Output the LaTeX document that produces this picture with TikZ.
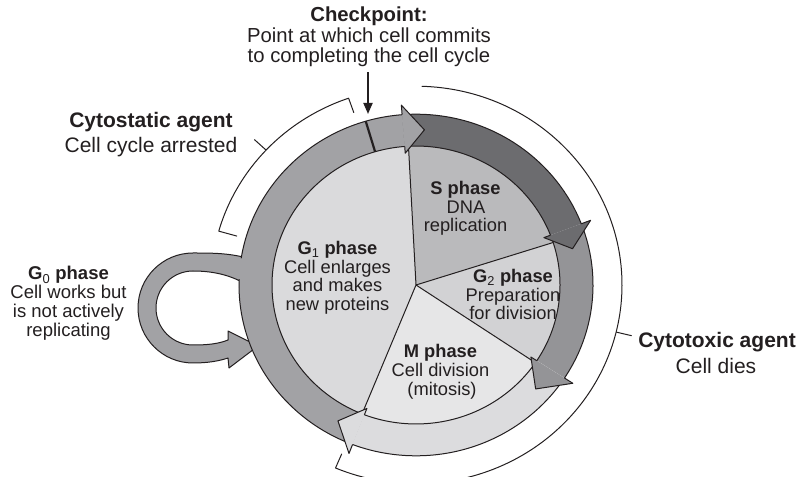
\documentclass[tikz,border=0pt]{standalone}
\usepackage{fontspec}
\setmainfont{Liberation Sans}
\usetikzlibrary{arrows.meta}
\definecolor{ringGone}{HTML}{A2A2A5}
\definecolor{ringS}{HTML}{6C6C6F}
\definecolor{ringGtwo}{HTML}{949497}
\definecolor{ringM}{HTML}{DCDCDE}
\definecolor{secGone}{HTML}{DADADC}
\definecolor{secS}{HTML}{BABABC}
\definecolor{secGtwo}{HTML}{D2D2D4}
\definecolor{secM}{HTML}{E6E6E7}
\definecolor{ink}{HTML}{231F20}
\tikzset{
  lab/.style={inner sep=0pt, anchor=base, text=ink},
  big/.style={lab, font=\fontsize{21}{25}\selectfont},
  bigb/.style={lab, font=\fontsize{21}{25}\selectfont\bfseries},
  cpr/.style={lab, font=\fontsize{20.3}{21}\selectfont},
  cpb/.style={lab, font=\fontsize{20.3}{21}\selectfont\bfseries},
  inr/.style={lab, font=\fontsize{18.3}{19}\selectfont},
  inb/.style={lab, font=\fontsize{18.3}{19}\selectfont\bfseries},
  gzr/.style={lab, font=\fontsize{18.5}{19}\selectfont},
  gzb/.style={lab, font=\fontsize{18.5}{19}\selectfont\bfseries},
  outl/.style={draw=ink, line width=1pt},
  brk/.style={draw=ink, line width=1pt},
}
\begin{document}
\begin{tikzpicture}[x=1pt,y=1pt,line join=round]
\useasboundingbox (0,0) rectangle (799,476);
\clip (0,0) rectangle (799,476);

% ---------- G0 loop (pixel coordinates, y downwards)
\begin{scope}[shift={(0,476)}, yscale=-1]
\filldraw[fill=ringGone, outl]
 (258,262) -- (243,257) .. controls (226,253) and (210,253) .. (193,253)
 arc[start angle=270, end angle=90, radius=55pt]
 .. controls (208,363) and (219,361) .. (228,358)
 -- (229,368) -- (258,346) -- (228,331) -- (228,340)
 .. controls (218,344) and (207,345) .. (193,345)
 arc[start angle=90, end angle=270, radius=37pt]
 .. controls (210,271) and (226,274) .. (240,281) -- (258,286) -- cycle;
\end{scope}

% ---------- cell cycle
\begin{scope}[shift={(416,191)}, yscale=0.965]
 % brackets
 \draw[brk] (109.2:189pt) -- (109.2:205pt) arc[start angle=109.2, end angle=164.2, radius=205pt] -- (164.2:186pt);
 \draw[brk] (137:205pt) -- (137:221pt);
 \draw[brk] (88.4:206pt) arc[start angle=88.4, end angle=-113, radius=206pt] -- (-113:190pt);
 \draw[brk] (-13.7:206pt) -- (-13.7:222pt);
 % disk sectors
 \fill[secGone] (0,0) -- (93:144pt) arc[start angle=93, end angle=248, radius=144pt] -- cycle;
 \fill[secS] (0,0) -- (17.8:144pt) arc[start angle=17.8, end angle=93, radius=144pt] -- cycle;
 \fill[secGtwo] (0,0) -- (-34:144pt) arc[start angle=-34, end angle=17.8, radius=144pt] -- cycle;
 \fill[secM] (0,0) -- (-112:144pt) arc[start angle=-112, end angle=-34, radius=144pt] -- cycle;
 \draw[outl] (93:144pt) -- (0,0) -- (17.8:144pt) (0,0) -- (-34:144pt) (0,0) -- (-112:144pt);
 % ring bodies
 \fill[ringGone] (94.5:144pt) arc[start angle=94.5, end angle=249, radius=144pt] -- (249:177pt) arc[start angle=249, end angle=94.5, radius=177pt] -- cycle;
 \fill[ringS] (21:144pt) arc[start angle=21, end angle=94.5, radius=144pt] -- (94.5:177pt) arc[start angle=94.5, end angle=21, radius=177pt] -- cycle;
 \fill[ringGtwo] (-33:144pt) arc[start angle=-33, end angle=21, radius=144pt] -- (21:177pt) arc[start angle=21, end angle=-33, radius=177pt] -- cycle;
 \fill[ringM] (-111:144pt) arc[start angle=-111, end angle=-33, radius=144pt] -- (-33:177pt) arc[start angle=-33, end angle=-111, radius=177pt] -- cycle;
 % ring outlines
 \draw[outl] (0,0) circle[radius=144pt];
 \draw[outl] (178:177pt) arc[start angle=178, end angle=531, radius=177pt];
 % arrow heads
 \fill[ringGone] (94.5:187pt) -- (87:161pt) -- (94.5:137pt) -- cycle;
 \draw[outl] (94.5:177pt) -- (94.5:187pt) -- (87:161pt) -- (94.5:137pt) -- (94.5:144pt);
 \fill[ringS] (21:187pt) -- (13.5:161pt) -- (21:137pt) -- cycle;
 \draw[outl] (21:177pt) -- (21:187pt) -- (13.5:161pt) -- (21:137pt) -- (21:144pt);
 \fill[ringGtwo] (-33:187pt) -- (-42:161pt) -- (-33:137pt) -- cycle;
 \draw[outl] (-33:177pt) -- (-33:187pt) -- (-42:161pt) -- (-33:137pt) -- (-33:144pt);
 \fill[ringM] (-111:187pt) -- (-119:161pt) -- (-111:137pt) -- cycle;
 \draw[outl] (-111:177pt) -- (-111:187pt) -- (-119:161pt) -- (-111:137pt) -- (-111:144pt);
 % checkpoint mark
 \draw[ink, line width=2.2pt] (106.5:144pt) -- (106.5:177pt);
\end{scope}

% ---------- labels
\node[cpb] (cp1) at (369,454) {Checkpoint:};
\node[cpr] (cp2) at (369,433) {Point at which cell commits};
\node[cpr] (cp3) at (369,413) {to completing the cell cycle};
\coordinate (cpt) at (368,362);
\draw[ink, line width=1.8pt, -{Triangle[length=11pt,width=9pt]}] ([yshift=-5pt]cp3.south -| cpt) -- (cpt);

\node[bigb] (cs1) at (151,348) {Cytostatic agent};
\node[big] (cs2) at (151,323) {Cell cycle arrested};
\node[bigb] (ct1) at (717,128) {Cytotoxic agent};
\node[big] (ct2) at (716,102) {Cell dies};

\node[gzb] (gz1) at (68.5,196) {G\textsubscript{\mdseries 0} phase};
\node[gzr] (gz2) at (68.5,177) {Cell works but};
\node[gzr] (gz3) at (68.5,158) {is not actively};
\node[gzr] (gz4) at (68.5,139) {replicating};

\node[inb] (ga1) at (337.5,221) {G\textsubscript{\mdseries 1} phase};
\node[inr] (ga2) at (337.5,202.5) {Cell enlarges};
\node[inr] (ga3) at (337.5,184) {and makes};
\node[inr] (ga4) at (337.5,165.5) {new proteins};

\node[inb] (sp1) at (465.5,281) {S phase};
\node[inr] (sp2) at (466,262.5) {DNA};
\node[inr] (sp3) at (465.5,244) {replication};

\node[inb] (gb1) at (513,193) {G\textsubscript{\mdseries 2} phase};
\node[inr] (gb2) at (513,174.5) {Preparation};
\node[inr] (gb3) at (513,156) {for division};

\node[inb] (mp1) at (440.5,118) {M phase};
\node[inr] (mp2) at (440.5,99.5) {Cell division};
\node[inr] (mp3) at (442,81) {(mitosis)};
\end{tikzpicture}
\end{document}
